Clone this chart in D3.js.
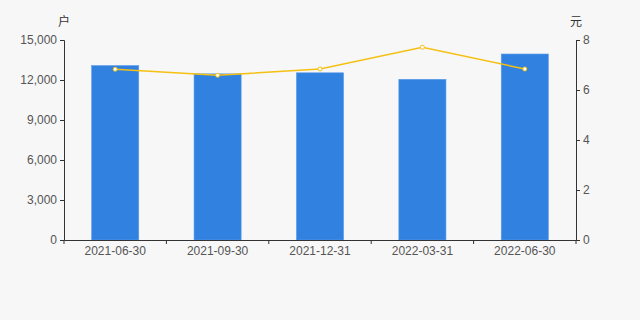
<!DOCTYPE html>
<html>
<head>
<meta charset="utf-8">
<script src="https://cdn.jsdelivr.net/npm/d3@7"></script>
<style>
  body { margin: 0; background: #f7f7f7; }
  svg { display: block; font-family: Arial, "Liberation Sans", "Noto Sans CJK SC", sans-serif; }
  .axis text { fill: #555; font-size: 12px; }
  .axis path, .axis line { stroke: #333; }
</style>
</head>
<body>
<div id="chart"></div>
<script>
// data
var dates = ["2021-06-30", "2021-09-30", "2021-12-31", "2022-03-31", "2022-06-30"];
var holders = [13080, 12460, 12540, 12050, 13950];   // 户
var avgPrice = [6.83, 6.59, 6.84, 7.71, 6.84];        // 元
var leftTicks = [0, 3000, 6000, 9000, 12000, 15000];
var rightTicks = [0, 2, 4, 6, 8];

var width = 640, height = 320;
var plotLeft = 64, plotRight = 576, plotTop = 40, plotBottom = 240;

var svg = d3.select("#chart")
    .append("svg")
    .attr("width", width)
    .attr("height", height);

svg.append("rect")
    .attr("width", width)
    .attr("height", height)
    .attr("fill", "#f7f7f7");

var x = d3.scaleBand()
    .domain(dates)
    .range([plotLeft, plotRight]);

var yL = d3.scaleLinear()
    .domain([0, 15000])
    .range([plotBottom, plotTop]);

var yR = d3.scaleLinear()
    .domain([0, 8])
    .range([plotBottom, plotTop]);

// bars
var barW = x.bandwidth() * 0.46;
svg.selectAll(".bar")
    .data(holders)
    .enter().append("rect")
    .attr("class", "bar")
    .attr("x", function(d, i) { return x(dates[i]) + x.bandwidth() / 2 - barW / 2; })
    .attr("y", function(d) { return yL(d); })
    .attr("width", barW)
    .attr("height", function(d) { return plotBottom - yL(d); })
    .attr("fill", "#3182e0")
    .attr("stroke", "#5a9beb")
    .attr("stroke-width", 0.6);

// axes
svg.append("g")
    .attr("class", "axis")
    .attr("transform", "translate(" + plotLeft + ",0)")
    .call(d3.axisLeft(yL).tickValues(leftTicks).tickSizeOuter(0).tickSize(4).tickPadding(3)
        .tickFormat(d3.format(",")));

svg.append("g")
    .attr("class", "axis")
    .attr("transform", "translate(" + plotRight + ",0)")
    .call(d3.axisRight(yR).tickValues(rightTicks).tickSizeOuter(0).tickSize(4).tickPadding(3));

var xAxis = svg.append("g")
    .attr("class", "axis")
    .attr("transform", "translate(0," + plotBottom + ")")
    .call(d3.axisBottom(x).tickSize(0).tickPadding(6).tickSizeOuter(0));

// category boundary ticks
var bounds = dates.map(function(d) { return x(d); }).concat([plotRight]);
xAxis.selectAll(".bound")
    .data(bounds)
    .enter().append("line")
    .attr("class", "bound")
    .attr("x1", function(d) { return d; })
    .attr("x2", function(d) { return d; })
    .attr("y1", 0)
    .attr("y2", 4)
    .attr("stroke", "#333");

// unit labels
svg.append("text")
    .attr("x", plotLeft)
    .attr("y", 26)
    .attr("text-anchor", "middle")
    .attr("fill", "#333")
    .style("font-size", "12px")
    .text("户");

svg.append("text")
    .attr("x", plotRight)
    .attr("y", 26)
    .attr("text-anchor", "middle")
    .attr("fill", "#333")
    .style("font-size", "12px")
    .text("元");

// price line
var line = d3.line()
    .x(function(d, i) { return x(dates[i]) + x.bandwidth() / 2; })
    .y(function(d) { return yR(d); });

svg.append("path")
    .datum(avgPrice)
    .attr("d", line)
    .attr("fill", "none")
    .attr("stroke", "#f5c012")
    .attr("stroke-width", 1.5);

svg.selectAll(".dot")
    .data(avgPrice)
    .enter().append("circle")
    .attr("class", "dot")
    .attr("cx", function(d, i) { return x(dates[i]) + x.bandwidth() / 2; })
    .attr("cy", function(d) { return yR(d); })
    .attr("r", 2)
    .attr("fill", "#fff")
    .attr("stroke", "#f5c012")
    .attr("stroke-width", 1);
</script>
</body>
</html>
